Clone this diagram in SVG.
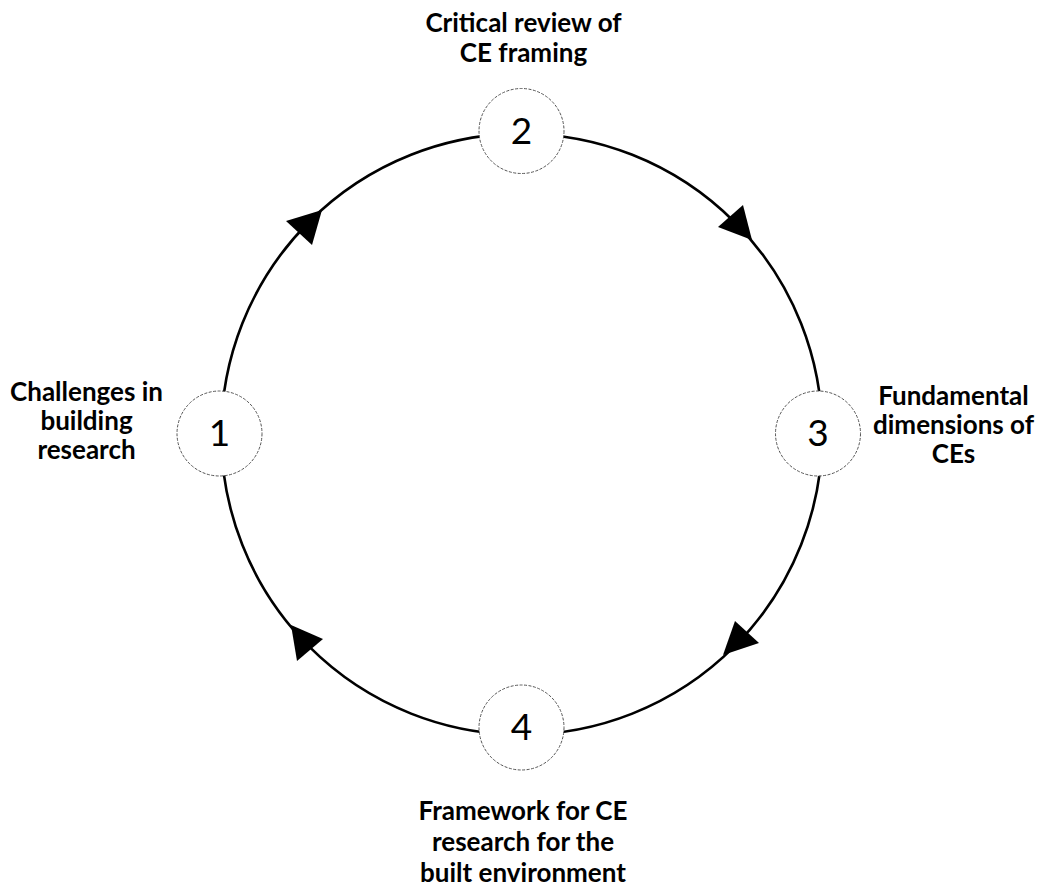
<svg xmlns="http://www.w3.org/2000/svg" width="1046" height="892" viewBox="0 0 1046 892">
  <style>
    .ring { fill: none; stroke: #000; stroke-width: 2.6; }
    .arrow { fill: #000; stroke: none; }
    .node { fill: #fff; stroke: #555; stroke-width: 1; stroke-dasharray: 3 1.5; }
    .num { font-family: Lato, "Liberation Sans", sans-serif; font-size: 37px; fill: #000; text-anchor: middle; }
    .label { font-family: Lato, "Liberation Sans", sans-serif; font-weight: bold; font-size: 26px; fill: #000; text-anchor: middle; }
  </style>
  <rect width="1046" height="892" fill="#fff"/>
  <g id="connectors">
    <path class="ring" d="M221.2,434.2 A300.5,300.5 0 0 1 521.7,133.7"/>
    <path class="ring" d="M521.7,133.7 A300.5,300.5 0 0 1 822.2,434.2"/>
    <path class="ring" d="M822.2,434.2 A300.5,300.5 0 0 1 521.7,734.7"/>
    <path class="ring" d="M521.7,734.7 A300.5,300.5 0 0 1 221.2,434.2"/>
    <polygon class="arrow" points="286,221 322,210 312,245"/>
    <polygon class="arrow" points="718,227 743,205 752,240"/>
    <polygon class="arrow" points="735,621 759,643 723,655"/>
    <polygon class="arrow" points="297,661 323,639 291,625"/>
  </g>
  <g id="node1">
    <circle class="node" cx="219.5" cy="433.5" r="42.5"/>
    <text class="num" x="219.5" y="446">1</text>
    <text class="label" x="86.5" y="401">Challenges in</text>
    <text class="label" x="86.5" y="430">building</text>
    <text class="label" x="86.5" y="459">research</text>
  </g>
  <g id="node2">
    <circle class="node" cx="521.5" cy="131" r="42.5"/>
    <text class="num" x="521.5" y="143.5">2</text>
    <text class="label" x="523.5" y="32">Critical review of</text>
    <text class="label" x="523.5" y="62">CE framing</text>
  </g>
  <g id="node3">
    <circle class="node" cx="818" cy="433.5" r="42.5"/>
    <text class="num" x="818" y="446">3</text>
    <text class="label" x="953.5" y="405">Fundamental</text>
    <text class="label" x="953.5" y="434">dimensions of</text>
    <text class="label" x="953.5" y="463">CEs</text>
  </g>
  <g id="node4">
    <circle class="node" cx="521.5" cy="727.5" r="42.5"/>
    <text class="num" x="521.5" y="740">4</text>
    <text class="label" x="523" y="820">Framework for CE</text>
    <text class="label" x="523" y="851">research for the</text>
    <text class="label" x="523" y="882">built environment</text>
  </g>
</svg>
